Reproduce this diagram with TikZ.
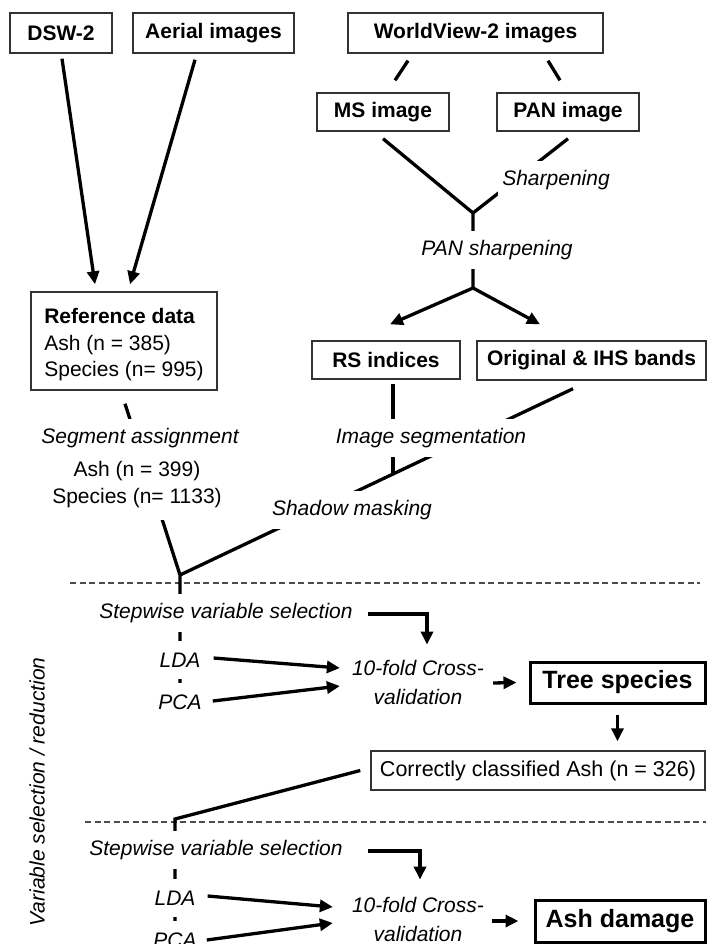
\documentclass[tikz,border=0pt]{standalone}
\usepackage{fontspec}
\setmainfont{Liberation Sans}
\usetikzlibrary{arrows.meta,positioning}
\pgfdeclarelayer{back}
\pgfsetlayers{back,main}

\tikzset{
  box/.style={draw=black!80, line width=1.4pt, inner sep=0pt, font=\fontsize{21}{27}\selectfont\bfseries},
  bigbox/.style={draw=black, line width=3pt, inner sep=0pt, font=\fontsize{25}{30}\selectfont\bfseries},
  note/.style={fill=white, inner xsep=4pt, inner ysep=0pt, minimum height=38pt, font=\fontsize{21}{29}\selectfont\itshape},
  link/.style={line width=3.3pt},
  sep/.style={draw=black!70, line width=1.2pt, dash pattern=on 6pt off 3.5pt},
}

\begin{document}
\begin{tikzpicture}[x=1pt, y=-1pt, on grid, >={Triangle[length=13pt,width=12pt]}]
\useasboundingbox (0,0) rectangle (706,944);

\node [box, minimum width=102pt, minimum height=40pt] (dsw) at (61,33) {DSW-2};
\node [box, minimum width=161pt, minimum height=40pt] (aerial) at (213.5,33) {Aerial images};
\node [box, minimum width=255pt, minimum height=40pt] (wv) at (475.5,33) {WorldView-2 images};
\node [box, minimum width=132pt, minimum height=38pt] (ms) at (383,112) {MS image};
\node [box, minimum width=142pt, minimum height=38pt] (pan) at (568,112) {PAN image};
\node [box, minimum width=186pt, minimum height=98pt, align=left, font=\fontsize{21}{26.5}\selectfont] (refdata) at (124,341)
  {{\bfseries\rule{0pt}{23pt}Reference data}\\Ash (n = 385)\\Species (n= 995)};
\node [box, minimum width=148pt, minimum height=38pt] (rs) at (386,360) {RS indices};
\node [box, minimum width=229pt, minimum height=39pt] (orig) at (591.5,360.5) {Original \& IHS bands};
\node [bigbox, minimum width=175pt, minimum height=41pt] (tree) at (617.5,682.5) {Tree species};
\node [box, minimum width=334pt, minimum height=39pt, font=\fontsize{21.5}{27}\selectfont] (correct) at (538,770.5) {Correctly classified Ash (n = 326)};
\node [bigbox, minimum width=170pt, minimum height=42pt] (ash) at (620,921) {Ash damage};

\node [note] (sharp) at (556,180) {Sharpening};
\node [note] (pansharp) at (497,250) {PAN sharpening};
\node [note, align=center, minimum height=70pt, font=\fontsize{21}{27}\selectfont] (ashn) at (137,485) {Ash (n = 399)\\Species (n= 1133)};
\node [note] (segassign) at (140,438) {Segment assignment};
\node [note] (imgseg) at (431,438) {Image segmentation};
\node [note] (shadow) at (352,510) {Shadow masking};

\node [note] (step1) at (226,613) {Stepwise variable selection};
\node [note] (lda1) at (180,660) {LDA};
\node [note] (pca1) [below=42pt of lda1] {PCA};
\node [note, align=center] (cv1) at (418,682) {10-fold Cross-\\validation};

\node [note] (step2) at (216,850) {Stepwise variable selection};
\node [note] (lda2) at (175,898) {LDA};
\node [note] (pca2) [below=42pt of lda2] {PCA};
\node [note, align=center] (cv2) at (418,919) {10-fold Cross-\\validation};

\node [rotate=90, font=\fontsize{21}{27}\selectfont\itshape] (varsel) at (37,792) {Variable selection / reduction};

\coordinate (j1) at (473,213);
\coordinate (j2) at (473,288);
\coordinate (j3) at (180,575);
\coordinate (j4) at (175,819);
\coordinate (j5) at (393,474);

\begin{pgfonlayer}{back}
\draw [sep] (70,583) -- (700,583);
\draw [sep] (85,822) -- (706,822);
\draw [link, ->] ([xshift=1pt, yshift=-5pt]dsw.south) -- ([xshift=-29pt, yshift=7pt]refdata.north);
\draw [link, ->] ([xshift=-18.5pt, yshift=-6pt]aerial.south) -- ([xshift=6pt, yshift=7pt]refdata.north);
\draw [link] ([xshift=-67.5pt, yshift=-7pt]wv.south) -- ([xshift=12pt, yshift=12pt]ms.north);
\draw [link] ([xshift=72.5pt, yshift=-7pt]wv.south) -- ([xshift=-8pt, yshift=12pt]pan.north);
\draw [link] ([yshift=-7pt]ms.south) -- (j1) -- (j2);
\draw [link] ([yshift=-7pt]pan.south) -- (j1);
\draw [link, ->] (j2) -- ([xshift=4pt, yshift=16pt]rs.north);
\draw [link, ->] (j2) -- ([xshift=-51.5pt, yshift=16pt]orig.north);
\draw [link] ([xshift=7pt, yshift=-4pt]rs.south) -- (j5);
\draw [link] ([xshift=-18.5pt, yshift=-8pt]orig.south) -- (j3);
\draw [link] ([xshift=1pt, yshift=-13pt]refdata.south) -- (j3) -- (pca1.center);
\draw [link] ([xshift=-10pt]correct.west) -- (j4) -- (pca2.center);
\end{pgfonlayer}

\draw [link, ->, shorten >=15pt] ([xshift=11pt, yshift=-1pt]step1.east) -| ([xshift=9pt]cv1.north);
\draw [link, ->] ([xshift=9pt, yshift=2pt]lda1.east) -- ([xshift=-8pt, yshift=14pt]cv1.west);
\draw [link, ->] ([xshift=7pt, yshift=1pt]pca1.east) -- ([xshift=-8pt, yshift=-4pt]cv1.west);
\draw [link, ->] ([xshift=5pt, yshift=-1pt]cv1.east) -- ([xshift=-12pt]tree.west);
\draw [link, ->, shorten <=10pt, shorten >=9pt] (tree.south) -- (tree.south |- correct.north);

\draw [link, ->, shorten >=17pt] ([xshift=21pt, yshift=-1pt]step2.east) -| ([xshift=2pt]cv2.north);
\draw [link, ->] ([xshift=8pt, yshift=2pt]lda2.east) -- ([xshift=-15pt, yshift=12pt]cv2.west);
\draw [link, ->] ([xshift=6pt]pca2.east) -- ([xshift=-15pt, yshift=-4pt]cv2.west);
\draw [link, ->] ([xshift=4pt, yshift=-2pt]cv2.east) -- ([xshift=-15pt]ash.west);
\end{tikzpicture}
\end{document}
